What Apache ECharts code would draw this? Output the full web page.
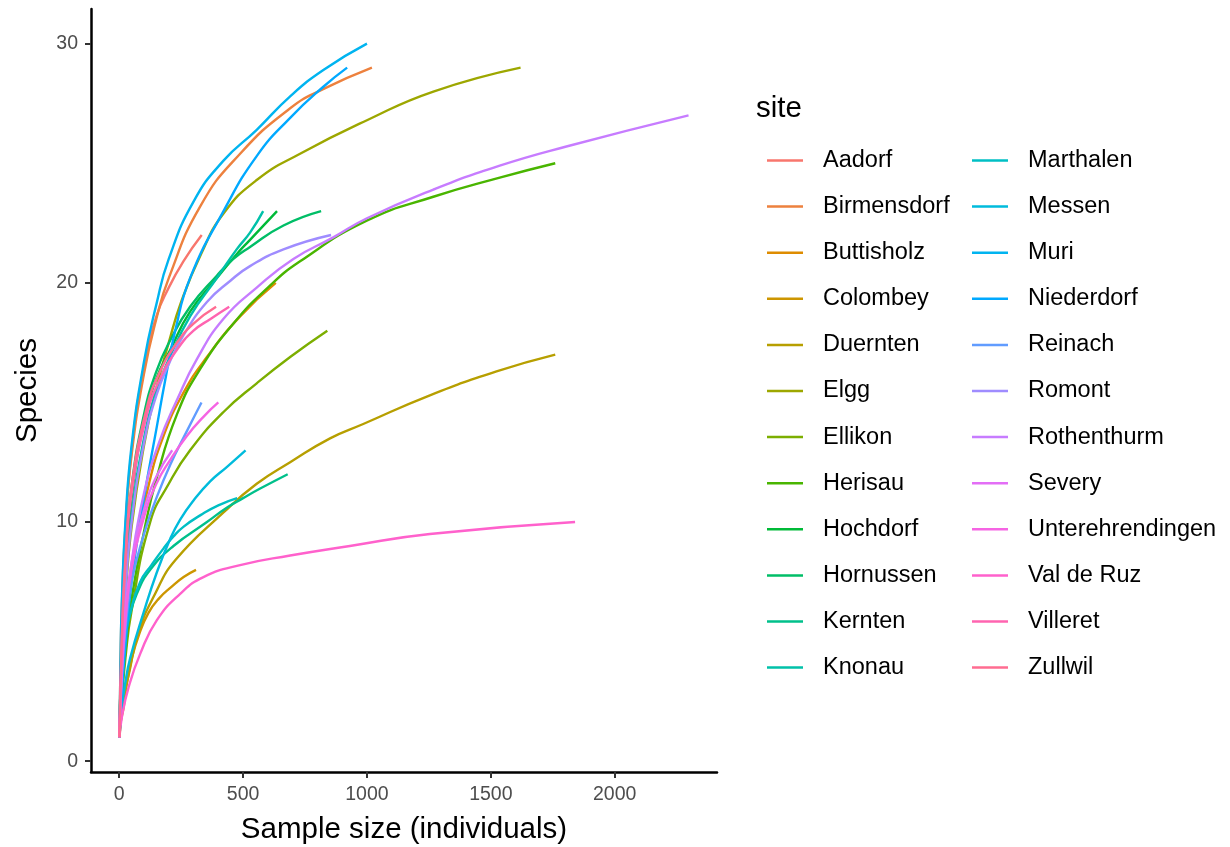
<!DOCTYPE html>
<html>
<head>
<meta charset="utf-8">
<script src="https://cdn.jsdelivr.net/npm/echarts@6/dist/echarts.min.js"></script>
<style>
html,body{margin:0;padding:0;background:#fff;}
#chart{width:1230px;height:847px;}
</style>
</head>
<body>
<div id="chart"></div>
<script>
// ---- data (sample size, species) ----
const sites = ["Aadorf","Birmensdorf","Buttisholz","Colombey","Duernten","Elgg","Ellikon","Herisau","Hochdorf","Hornussen","Kernten","Knonau","Marthalen","Messen","Muri","Niederdorf","Reinach","Romont","Rothenthurm","Severy","Unterehrendingen","Val de Ruz","Villeret","Zullwil"];
const xTicks = [0, 500, 1000, 1500, 2000];
const yTicks = [0, 10, 20, 30];

const aadorf = [[1,1],[10,5.5],[25,9.5],[50,13],[100,16.5],[150,18.6],[200,19.8],[259,20.9],[333,22]];
const birmensdorf = [[1,1],[5,4],[10,6.3],[25,9.8],[50,12.8],[100,16.2],[150,18.5],[200,20.2],[327,23.2],[488,25.4],[690,27.3],[823,28.1],[1020,29]];
const buttisholz = [[1,1],[10,3.3],[25,5.6],[50,8],[118,11.5],[179,13.6],[259,15.4],[354,16.9],[488,18.6],[632,20]];
const colombey = [[1,1],[5,1.6],[17,2.2],[30,3.2],[51,4.3],[80,5.3],[118,6.2],[160,6.8],[212,7.3],[260,7.7],[310,8]];
const duernten = [[1,1],[10,2],[25,3],[38,3.6],[78,5.4],[145,7],[226,8.4],[421,10.4],[555,11.6],[690,12.5],[851,13.5],[985,14.1],[1254,15.3],[1523,16.3],[1760,17]];
const elgg = [[1,1],[10,4],[25,6.8],[50,9.8],[100,13.2],[150,15.6],[200,17.5],[250,19.2],[330,21.2],[421,22.9],[555,24.3],[730,25.4],[1000,26.8],[1268,28],[1620,29]];
const ellikon = [[1,1],[10,2.5],[25,4.3],[50,6.3],[125,10],[200,11.6],[286,13],[421,14.6],[555,15.8],[690,16.9],[840,18]];
const herisau = [[1,1],[10,2.8],[25,4.6],[50,6.8],[100,9.6],[150,11.8],[233,14.5],[327,16.4],[461,18.3],[600,19.8],[730,20.9],[999,22.6],[1268,23.6],[1536,24.4],[1760,25]];
const hochdorf = [[1,1],[10,4.8],[25,8],[50,11],[100,14.2],[150,16],[206,17.2],[286,18.8],[394,20.2],[474,21.2],[528,21.8],[637,23]];
const hornussen = [[1,1],[10,5],[25,8.5],[50,11.5],[100,14.5],[150,16.3],[206,17.6],[286,19],[394,20.3],[461,21],[528,21.5],[663,22.4],[815,23]];
const kernten = [[1,1],[10,3.5],[25,5.2],[38,5.9],[71,7],[125,8],[219,9],[354,10],[434,10.6],[500,11],[569,11.4],[680,12]];
const knonau = [[1,1],[10,4.5],[25,7.5],[50,10.3],[100,13.5],[150,15.5],[200,16.8],[286,18.6],[394,20.2],[474,21.4],[528,22.1],[581,23]];
const marthalen = [[1,1],[10,3.5],[25,5.2],[44,6.2],[85,7.5],[130,8.2],[179,8.9],[219,9.4],[259,9.8],[330,10.3],[400,10.7],[476,11]];
const messen = [[1,1],[10,2.2],[25,3.3],[44,4.3],[98,6.2],[152,7.9],[206,9.3],[246,10.1],[300,10.9],[367,11.7],[434,12.3],[510,13]];
const muri = [[1,1],[5,4],[10,6.5],[25,10],[50,13.2],[100,16.7],[150,19.1],[200,21],[300,23.4],[420,25.1],[555,26.4],[690,27.8],[824,28.9],[1000,30]];
const niederdorf = [[1,1],[10,2.8],[25,4.8],[50,7.5],[100,11],[152,14],[185,15.9],[226,18],[286,20.2],[421,23],[555,25.3],[690,26.9],[824,28.2],[920,29]];
const reinach = [[1,1],[10,3.5],[25,5.5],[50,7.5],[100,9.5],[150,11],[206,12.4],[273,13.8],[332,15]];
const romont = [[1,1],[10,4],[25,7],[50,10],[100,13.3],[150,15.3],[200,16.6],[259,17.8],[354,19.2],[450,20.1],[528,20.7],[663,21.4],[855,22]];
const rothenthurm = [[1,1],[10,3.5],[25,5.8],[50,8.3],[100,11.2],[160,13.3],[233,15.1],[313,16.8],[421,18.5],[555,19.8],[703,21],[864,21.9],[1000,22.7],[1268,23.9],[1536,24.9],[1805,25.7],[2298,27]];
const severy = [[1,1],[10,4],[25,6.3],[50,8.3],[100,10.5],[150,11.9],[214,13]];
const unterehrendingen = [[1,1],[10,3.8],[25,6],[50,8],[100,10.2],[150,11.6],[206,12.6],[273,13.6],[340,14.4],[400,15]];
const valDeRuz = [[1,1],[10,1.8],[38,3.1],[85,4.5],[152,5.9],[246,7],[340,7.7],[488,8.2],[690,8.6],[931,9],[1254,9.5],[1840,10]];
const villeret = [[1,1],[10,4.8],[25,8.2],[50,11.2],[112,14.5],[165,16],[233,17.2],[300,18],[370,18.5],[444,19]];
const zullwil = [[1,1],[10,5],[25,8.5],[50,11.5],[112,14.8],[165,16.3],[233,17.5],[300,18.3],[391,19]];

const curves = [aadorf,birmensdorf,buttisholz,colombey,duernten,elgg,ellikon,herisau,hochdorf,hornussen,kernten,knonau,marthalen,messen,muri,niederdorf,reinach,romont,rothenthurm,severy,unterehrendingen,valDeRuz,villeret,zullwil];

// ggplot2 default hue palette (HCL, c=100, l=65)
function hcl2hex(h, c, l) {
  const hr = h * Math.PI / 180;
  const U = c * Math.cos(hr), V = c * Math.sin(hr);
  const Xn = 95.047, Yn = 100, Zn = 108.883;
  const den = Xn + 15 * Yn + 3 * Zn;
  const un = 4 * Xn / den, vn = 9 * Yn / den;
  const Y = Yn * (l > 8 ? Math.pow((l + 16) / 116, 3) : l / 903.3);
  const u = U / (13 * l) + un, v = V / (13 * l) + vn;
  const X = 9 * Y * u / (4 * v);
  const Z = -X / 3 - 5 * Y + 3 * Y / v;
  const x = X / 100, y = Y / 100, z = Z / 100;
  let rgb = [
    3.240479 * x - 1.537150 * y - 0.498535 * z,
    -0.969256 * x + 1.875992 * y + 0.041556 * z,
    0.055648 * x - 0.204043 * y + 1.057311 * z
  ];
  rgb = rgb.map(t => {
    t = t <= 0.0031308 ? 12.92 * t : 1.055 * Math.pow(t, 1 / 2.4) - 0.055;
    t = Math.max(0, Math.min(1, t));
    return Math.round(t * 255).toString(16).padStart(2, '0');
  });
  return '#' + rgb.join('');
}
const n = sites.length;
const colors = sites.map((s, i) => hcl2hex(15 + 360 * i / n, 100, 65));

const series = sites.map((s, i) => ({
  name: s,
  type: 'line',
  data: curves[i],
  showSymbol: false,
  symbol: 'none',
  smooth: 0.5,
  lineStyle: { width: 2.4, color: colors[i] },
  itemStyle: { color: colors[i] },
  emphasis: { disabled: true },
  silent: true,
  animation: false
}));

const FONT = 'Liberation Sans, Arial, sans-serif';
const legendBase = {
  orient: 'vertical',
  icon: 'rect',
  itemWidth: 36,
  itemHeight: 2.5,
  itemGap: 22.1,
  padding: 0,
  selectedMode: false,
  textStyle: { fontFamily: FONT, fontSize: 23.5, color: '#000', lineHeight: 24, padding: [0, 0, 0, 15] }
};

const chart = echarts.init(document.getElementById('chart'), null, { renderer: 'canvas' });
chart.setOption({
  animation: false,
  backgroundColor: '#fff',
  color: colors,
  title: {
    text: 'site', left: 756, top: 94, padding: 0,
    textStyle: { fontFamily: FONT, fontSize: 29.5, fontWeight: 'normal', color: '#000' }
  },
  legend: [
    Object.assign({}, legendBase, { data: sites.slice(0, 12), left: 767, top: 148.5 }),
    Object.assign({}, legendBase, { data: sites.slice(12), left: 972, top: 148.5 })
  ],
  grid: { left: 91, right: 513, top: 9, bottom: 75, containLabel: false, outerBoundsMode: 'none' },
  xAxis: {
    type: 'value',
    min: -113.9, max: 2412.9,
    name: 'Sample size (individuals)',
    nameLocation: 'middle',
    nameGap: 43,
    nameTextStyle: { fontFamily: FONT, fontSize: 29.5, color: '#000' },
    axisLine: { show: true, onZero: false, lineStyle: { color: '#000', width: 2.5 } },
    axisTick: { show: true, length: 6, customValues: xTicks, lineStyle: { color: '#333', width: 2 } },
    axisLabel: { customValues: xTicks, formatter: v => String(v), fontFamily: FONT, fontSize: 19.5, color: '#4D4D4D', margin: 13 },
    splitLine: { show: false }
  },
  yAxis: {
    type: 'value',
    min: -0.45, max: 31.45,
    name: 'Species',
    nameLocation: 'middle',
    nameGap: 48,
    nameRotate: 90,
    nameTextStyle: { fontFamily: FONT, fontSize: 29.5, color: '#000' },
    axisLine: { show: true, onZero: false, lineStyle: { color: '#000', width: 2.5 } },
    axisTick: { show: true, length: 6, customValues: yTicks, lineStyle: { color: '#333', width: 2 } },
    axisLabel: { customValues: yTicks, formatter: v => String(v), fontFamily: FONT, fontSize: 19.5, color: '#4D4D4D', margin: 13 },
    splitLine: { show: false }
  },
  series: series
});
</script>
</body>
</html>
